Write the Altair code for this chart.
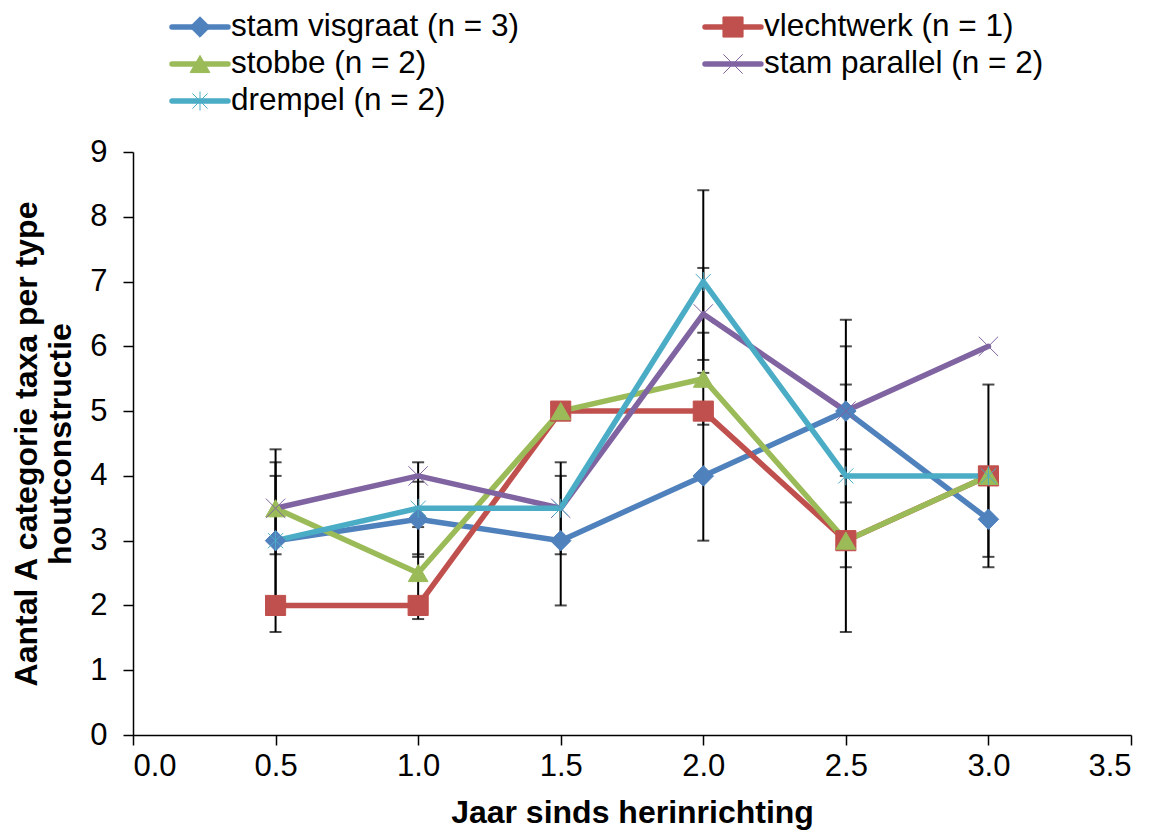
import altair as alt
import pandas as pd

# ---- data ----
x_years = [0.5, 1.0, 1.5, 2.0, 2.5, 3.0]
series_names = [
    "stam visgraat (n = 3)",
    "vlechtwerk (n = 1)",
    "stobbe (n = 2)",
    "stam parallel (n = 2)",
    "drempel (n = 2)",
]
colors = ["#4F81BD", "#C0504D", "#9BBB59", "#8064A2", "#4BACC6"]
shapes = [
    "diamond",
    "square",
    "triangle-up",
    "M-1,-1L1,1M-1,1L1,-1",
    "M-0.8,-0.8L0.8,0.8M-0.8,0.8L0.8,-0.8M0,-1L0,1",
]
marker_sizes = [420, 360, 360, 360, 400]
marker_strokes = [1, 1, 1, 3, 3]

visgraat = [3, 3.33, 3, 4, 5, 3.33]
visgraat_sd = [1, 0.58, 1, 1, 1, 0.58]
vlechtwerk = [2, 2, 5, 5, 3, 4]
vlechtwerk_sd = [0, 0, 0, 0, 0, 0]
stobbe = [3.5, 2.5, 5, 5.5, 3, 4]
stobbe_sd = [0.71, 0.71, 0, 0.71, 1.41, 0]
parallel = [3.5, 4, 3.5, 6.5, 5, 6]
parallel_sd = [0, 0, 0, 0.71, 1.41, 0]
drempel = [3, 3.5, 3.5, 7, 4, 4]
drempel_sd = [1.41, 0.71, 0.71, 1.41, 1.41, 1.41]

legend_col = [0, 1, 0, 1, 0]
legend_row = [0, 0, 1, 1, 2]

x_ticks = [0.0, 0.5, 1.0, 1.5, 2.0, 2.5, 3.0, 3.5]
y_ticks = [0, 1, 2, 3, 4, 5, 6, 7, 8, 9]

FONT = "Liberation Sans"
FS = 31
LEG_FS = 31.5
TITLE_FS = 32

# ---- tables ----
all_means = [visgraat, vlechtwerk, stobbe, parallel, drempel]
all_sds = [visgraat_sd, vlechtwerk_sd, stobbe_sd, parallel_sd, drempel_sd]
rows = []
for si, name in enumerate(series_names):
    for xi, xv in enumerate(x_years):
        m = all_means[si][xi]
        s = all_sds[si][xi]
        rows.append({"series": name, "order": si, "x": xv, "y": m,
                     "sd": s, "lo": m - s, "hi": m + s})
df = pd.DataFrame(rows)
err = df[df["sd"] > 0]
leg = pd.DataFrame({"series": series_names, "col": legend_col, "row": legend_row})

xscale = alt.Scale(domain=[0, 3.5], nice=False, zero=False)
yscale = alt.Scale(domain=[0, 9], nice=False, zero=True)
color = alt.Color("series:N", scale=alt.Scale(domain=series_names, range=colors), legend=None)
fill = alt.Fill("series:N", scale=alt.Scale(domain=series_names, range=colors), legend=None)
shape = alt.Shape("series:N", scale=alt.Scale(domain=series_names, range=shapes), legend=None)
size = alt.Size("series:N", scale=alt.Scale(domain=series_names, range=marker_sizes), legend=None)
sw = alt.StrokeWidth("series:N", scale=alt.Scale(domain=series_names, range=marker_strokes), legend=None)

xaxis = alt.Axis(values=x_ticks, format=".1f", title="Jaar sinds herinrichting",
                 grid=False, tickSize=10, labelPadding=6, titlePadding=16)
yaxis = alt.Axis(values=y_ticks, format="d",
                 title=["Aantal A categorie taxa per type", "houtconstructie"],
                 grid=False, tickSize=10, labelPadding=16, titlePadding=12)

X = lambda f: alt.X(f, scale=xscale, axis=xaxis)
Y = lambda f: alt.Y(f, scale=yscale, axis=yaxis)

lines = alt.Chart(df).mark_line(strokeWidth=5.5, strokeJoin="round", strokeCap="round").encode(
    x=X("x:Q"),
    y=Y("y:Q"),
    color=color,
    detail="series:N",
    order="order:Q",
)
err_base = alt.Chart(err)
bars = err_base.mark_rule(color="black", strokeWidth=2).encode(
    x=X("x:Q"),
    y=Y("lo:Q"),
    y2="hi:Q",
)
caps_lo = err_base.mark_tick(color="black", orient="horizontal", size=12, thickness=2).encode(
    x=X("x:Q"),
    y=Y("lo:Q"),
)
caps_hi = err_base.mark_tick(color="black", orient="horizontal", size=12, thickness=2).encode(
    x=X("x:Q"),
    y=Y("hi:Q"),
)
points = alt.Chart(df).mark_point(filled=False, opacity=1).encode(
    x=X("x:Q"),
    y=Y("y:Q"),
    color=color, fill=fill, shape=shape, size=size, strokeWidth=sw,
    order="order:Q",
)
main = alt.layer(bars, caps_lo, caps_hi, lines, points)

# ---- legend drawn above the plot ----
lx = alt.Scale(domain=[0, 1], range=[67, 600])
ly = alt.Scale(domain=[0, 2], range=[-125, -51])
lbase = alt.Chart(leg)
leg_line = lbase.mark_rule(strokeWidth=5.5, strokeCap="round", xOffset=-28, x2Offset=28).encode(
    x=alt.X("col:Q", scale=lx, axis=None),
    x2="col:Q",
    y=alt.Y("row:Q", scale=ly, axis=None),
    color=color,
)
leg_pt = lbase.mark_point(filled=False, opacity=1).encode(
    x=alt.X("col:Q", scale=lx, axis=None),
    y=alt.Y("row:Q", scale=ly, axis=None),
    color=color, fill=fill, shape=shape, size=size, strokeWidth=sw,
)
leg_txt = lbase.mark_text(align="left", baseline="middle", dx=31, fontSize=LEG_FS,
                          font=FONT, color="black").encode(
    x=alt.X("col:Q", scale=lx, axis=None),
    y=alt.Y("row:Q", scale=ly, axis=None),
    text="series:N",
)
legend = alt.layer(leg_line, leg_pt, leg_txt)

chart = alt.layer(main, legend).resolve_scale(x="independent", y="independent").properties(
    width=998,
    height=583,
    autosize=alt.AutoSizeParams(type="none"),
    padding={"left": 125, "top": 144, "right": 21, "bottom": 101},
).configure_view(stroke=None).configure_axis(
    domainColor="black", domainWidth=1.5, tickColor="black", tickWidth=1.5,
    labelFont=FONT, labelFontSize=FS, labelColor="black",
    titleFont=FONT, titleFontSize=TITLE_FS, titleFontWeight="bold", titleColor="black",
).configure_axisY(titleLineHeight=34)

chart.save("out.html", embed_options={"renderer": "svg", "actions": False})
